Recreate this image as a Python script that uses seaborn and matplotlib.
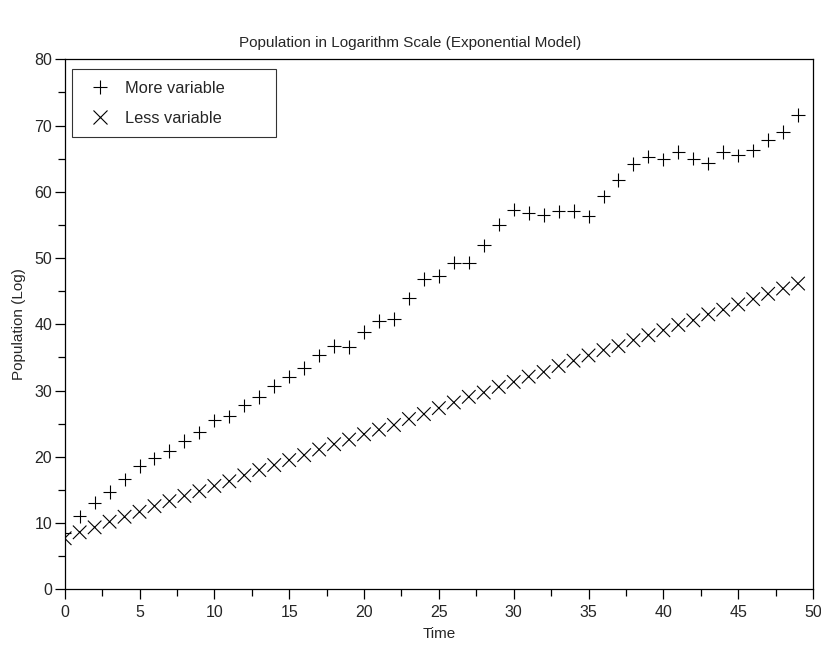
import numpy as np
import pandas as pd
import matplotlib
matplotlib.use("Agg")
import matplotlib.pyplot as plt
import seaborn as sns
from matplotlib.ticker import MultipleLocator

time = list(range(50))
more_variable = [8.5, 11.0, 13.1, 14.7, 16.6, 18.6, 19.75, 20.9, 22.4, 23.7,
                 25.5, 26.1, 27.75, 29.05, 30.7, 32.1, 33.4, 35.3, 36.7, 36.6,
                 38.8, 40.5, 40.8, 43.9, 46.8, 47.3, 49.3, 49.3, 51.9, 55.05,
                 57.3, 56.8, 56.5, 57.05, 57.1, 56.3, 59.3, 61.8, 64.2, 65.3,
                 64.9, 66.0, 65.0, 64.3, 66.0, 65.5, 66.25, 67.8, 69.0, 71.6]
less_variable = [7.7, 8.6, 9.35, 10.2, 10.95, 11.7, 12.55, 13.3, 14.1, 14.8,
                 15.6, 16.3, 17.2, 18.0, 18.75, 19.5, 20.25, 21.1, 21.9, 22.6,
                 23.4, 24.1, 24.8, 25.7, 26.45, 27.35, 28.2, 29.05, 29.7, 30.55,
                 31.3, 32.1, 32.8, 33.7, 34.5, 35.3, 36.1, 36.7, 37.6, 38.35,
                 39.1, 39.9, 40.6, 41.5, 42.2, 43.0, 43.8, 44.6, 45.4, 46.15]
series_names = ["More variable", "Less variable"]
title = "Population in Logarithm Scale (Exponential Model)"
x_label = "Time"
y_label = "Population (Log)"

df = pd.DataFrame({
    "Time": time * 2,
    "Value": more_variable + less_variable,
    "Series": [series_names[0]] * len(time) + [series_names[1]] * len(time),
})

sns.set_style("white")
plt.rcParams["font.family"] = ["Liberation Sans", "DejaVu Sans"]

fig = plt.figure(figsize=(8.21, 6.48), dpi=100)
ax = fig.add_axes([0.0788, 0.0906, 0.9115, 0.8179])

sns.scatterplot(data=df, x="Time", y="Value", style="Series",
                markers={series_names[0]: "+", series_names[1]: "x"},
                color="black", s=95, linewidth=0.8, ax=ax, legend="full")

ax.set_xlim(0, 50)
ax.set_ylim(0, 80)
ax.xaxis.set_major_locator(MultipleLocator(5))
ax.xaxis.set_minor_locator(MultipleLocator(2.5))
ax.yaxis.set_major_locator(MultipleLocator(10))
ax.yaxis.set_minor_locator(MultipleLocator(5))
ax.tick_params(which="major", direction="out", length=7, width=0.9,
               labelsize=11.5, color="black", bottom=True, left=True, top=False, right=False)
ax.tick_params(which="minor", direction="out", length=5, width=0.9,
               color="black", bottom=True, left=True, top=False, right=False)
ax.tick_params(axis="y", pad=2)
ax.tick_params(axis="x", pad=4)
for sp in ax.spines.values():
    sp.set_color("black")
    sp.set_linewidth(0.9)

ax.set_xlabel(x_label, fontsize=11, labelpad=5)
ax.set_ylabel(y_label, fontsize=11, labelpad=6)
fig.suptitle(title, fontsize=11, y=0.944)

handles, labels = ax.get_legend_handles_labels()
leg = ax.legend(handles, labels, loc="upper left",
                bbox_to_anchor=(0.0098, 0.981 - 0.1245, 0.2726, 0.1245),
                mode="expand", borderaxespad=0,
                fontsize=11.8, frameon=True, fancybox=False, edgecolor="black",
                borderpad=0.7, handlelength=2.0, handletextpad=0.55,
                labelspacing=0.9, title=None, markerscale=1.0)
leg.get_frame().set_linewidth(0.8)

fig.savefig("out.png", dpi=100)
